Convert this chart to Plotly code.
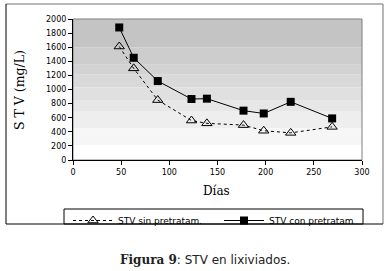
import plotly.graph_objects as go

dias = [48, 63, 88, 123, 139, 177, 198, 226, 269]
stv_sin = [1610, 1300, 850, 560, 520, 495, 415, 385, 470]
stv_con = [1880, 1450, 1120, 865, 870, 700, 660, 825, 590]

x_ticks = [0, 50, 100, 150, 200, 250, 300]
y_ticks = list(range(0, 2001, 200))

W, H = 392, 271
L, R, T, B = 73, 362, 19, 160

def px(x):
    return (x - L) / (R - L)

def py(y):
    return (B - y) / (B - T)

fig = go.Figure()
fig.add_trace(go.Scatter(
    x=dias, y=stv_sin, name="STV sin pretratam.", mode="lines+markers",
    line=dict(color="black", width=1, dash="3px,3px"),
    marker=dict(symbol="triangle-up-open", size=9, color="black", line=dict(width=1, color="black")),
))
fig.add_trace(go.Scatter(
    x=dias, y=stv_con, name="STV con pretratam", mode="lines+markers",
    line=dict(color="black", width=1),
    marker=dict(symbol="square", size=8, color="black"),
))

bands = [(1600, 2000, "#c4c4c4"), (1350, 1600, "#cdcdcd"), (1210, 1350, "#d3d3d3"),
         (1030, 1210, "#d9d9d9"), (850, 1030, "#e0e0e0"), (685, 850, "#e7e7e7"),
         (450, 685, "#eeeeee"), (210, 450, "#f6f6f6"), (0, 210, "#ffffff")]
shapes = []
for y0, y1, c in bands:
    shapes.append(dict(type="rect", xref="x domain", yref="y", x0=0, x1=1, y0=y0, y1=y1,
                       fillcolor=c, line=dict(width=0), layer="below"))
shapes.append(dict(type="rect", xref="x domain", yref="y domain", x0=0, x1=1, y0=0, y1=1,
                   line=dict(color="#808080", width=1), layer="below"))
ox0, ox1, oy0, oy1 = px(6), px(383), py(224), py(4)
shapes += [
    dict(type="line", xref="paper", yref="paper", x0=ox0, x1=ox1, y0=oy1, y1=oy1, line=dict(color="#707070", width=1)),
    dict(type="line", xref="paper", yref="paper", x0=ox1, x1=ox1, y0=oy0, y1=oy1, line=dict(color="#707070", width=1)),
    dict(type="line", xref="paper", yref="paper", x0=ox0, x1=ox0, y0=oy0, y1=oy1, line=dict(color="black", width=1)),
    dict(type="line", xref="paper", yref="paper", x0=ox0, x1=ox1, y0=oy0, y1=oy0, line=dict(color="black", width=1)),
    dict(type="rect", xref="paper", yref="paper", x0=px(64), x1=px(363), y0=py(224), y1=py(209),
         line=dict(color="black", width=1)),
]

fig.update_layout(
    width=W, height=H,
    margin=dict(l=L, r=W - R, t=T, b=H - B, autoexpand=False),
    paper_bgcolor="white", plot_bgcolor="white",
    showlegend=True,
    legend=dict(orientation="h", x=px(68), y=py(206), xanchor="left", yanchor="top",
                font=dict(family="DejaVu Sans, Liberation Sans", size=9, color="black"),
                bgcolor="rgba(0,0,0,0)", borderwidth=0, entrywidth=96, entrywidthmode="pixels",
                itemwidth=40, tracegroupgap=0),
    shapes=shapes,
    font=dict(family="DejaVu Sans, Liberation Sans", size=8, color="black"),
)
fig.update_xaxes(range=[0, 300], tickvals=x_ticks, ticks="outside", ticklen=4, tickcolor="black",
                 showline=True, linecolor="black", linewidth=1, showgrid=False, zeroline=False,
                 tickfont=dict(size=8))
fig.update_yaxes(range=[0, 2000], tickvals=y_ticks, ticks="outside", ticklen=4, tickcolor="black",
                 showline=True, linecolor="black", linewidth=1, showgrid=False, zeroline=False,
                 tickfont=dict(size=8))

fig.add_annotation(text="S T V (mg/L)", xref="paper", yref="paper", x=px(19), y=py(90),
                   xanchor="center", yanchor="middle",
                   textangle=-90, showarrow=False, font=dict(family="DejaVu Serif, Liberation Serif", size=12.5))
fig.add_annotation(text="Días", xref="paper", yref="paper", x=px(216), y=py(191),
                   xanchor="center", yanchor="middle",
                   showarrow=False, font=dict(family="DejaVu Serif, Liberation Serif", size=12))
fig.add_annotation(text="<b><span style='font-family:DejaVu Serif, Liberation Serif'>Figura 9</span></b>: STV en lixiviados.",
                   xref="paper", yref="paper", x=px(205), y=py(260), xanchor="center", yanchor="middle",
                   showarrow=False,
                   font=dict(family="DejaVu Sans, Liberation Sans", size=12, color="#222"))

fig.write_html("out.html", post_script="document.body.style.margin='0';",
               config={"displayModeBar": False})
